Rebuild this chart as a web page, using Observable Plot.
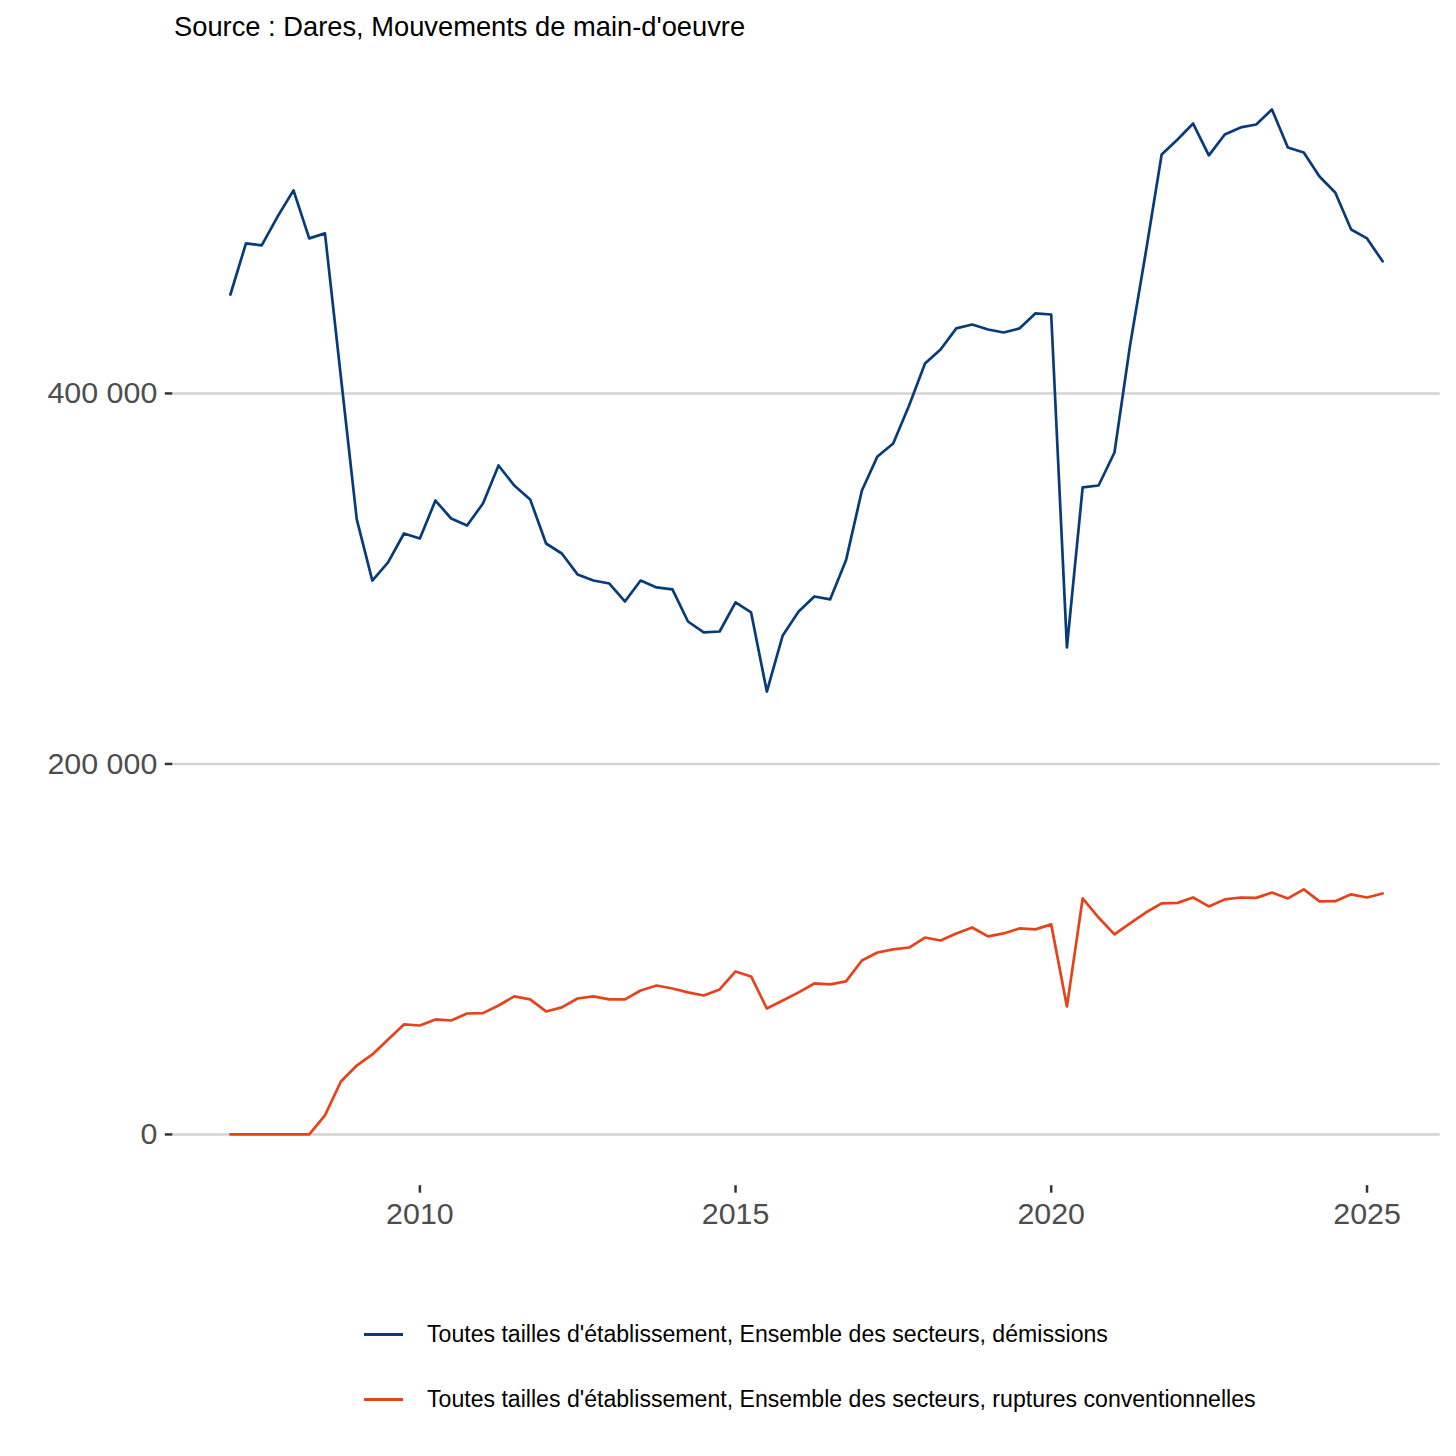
<!DOCTYPE html>
<html><head><meta charset="utf-8">
<script src="https://cdn.jsdelivr.net/npm/d3@7"></script>
<script src="https://cdn.jsdelivr.net/npm/@observablehq/plot@0.6"></script>
<style>
body{margin:0;background:#fff;font-family:"Liberation Sans",Arial,sans-serif;}
#sub{height:50px;box-sizing:border-box;padding:3px 0 0 174px;font-size:27.3px;line-height:48px;color:#000;white-space:nowrap;}
#chart svg{display:block;}
#legend{margin-top:62px;padding-left:364px;font-size:23.1px;color:#000;}
.row{height:65px;display:flex;align-items:center;white-space:nowrap;}
.key{width:39px;height:2.7px;margin-right:24px;flex:none;}
</style></head><body>
<div id="sub">Source : Dares, Mouvements de main-d'oeuvre</div>
<div id="chart"></div>
<div id="legend"></div>
<script>
const periods = [
"2007-01-01","2007-04-01","2007-07-01","2007-10-01",
"2008-01-01","2008-04-01","2008-07-01","2008-10-01",
"2009-01-01","2009-04-01","2009-07-01","2009-10-01",
"2010-01-01","2010-04-01","2010-07-01","2010-10-01",
"2011-01-01","2011-04-01","2011-07-01","2011-10-01",
"2012-01-01","2012-04-01","2012-07-01","2012-10-01",
"2013-01-01","2013-04-01","2013-07-01","2013-10-01",
"2014-01-01","2014-04-01","2014-07-01","2014-10-01",
"2015-01-01","2015-04-01","2015-07-01","2015-10-01",
"2016-01-01","2016-04-01","2016-07-01","2016-10-01",
"2017-01-01","2017-04-01","2017-07-01","2017-10-01",
"2018-01-01","2018-04-01","2018-07-01","2018-10-01",
"2019-01-01","2019-04-01","2019-07-01","2019-10-01",
"2020-01-01","2020-04-01","2020-07-01","2020-10-01",
"2021-01-01","2021-04-01","2021-07-01","2021-10-01",
"2022-01-01","2022-04-01","2022-07-01","2022-10-01",
"2023-01-01","2023-04-01","2023-07-01","2023-10-01",
"2024-01-01","2024-04-01","2024-07-01","2024-10-01",
"2025-01-01","2025-04-01"];

const demissions = [
453400,481000,479900,495500,
509600,483700,486400,409000,
332000,299000,308800,324400,
321700,342200,332500,328700,
340600,361100,350300,342800,
319000,313600,302300,299000,
297400,287700,299000,295300,
294200,276900,271000,271500,
287200,281800,239100,269400,
282300,290400,288800,309900,
347600,366000,373000,393500,
416200,423700,435100,437200,
434500,432900,435100,443200,
442600,262900,349300,350300,
368100,425900,476100,529000,
537100,545700,528500,539800,
543600,545200,553300,532800,
530100,517100,508500,488500,
483700,471300];

const ruptures = [
0,0,0,0,
0,0,10300,28600,
37200,43200,51300,59400,
58800,62100,61500,65300,
65500,69600,74500,72900,
66400,68600,73400,74500,
72900,72900,77700,80400,
78800,76700,75000,78300,
88000,85300,68000,72300,
76700,81500,81000,82600,
93900,98200,99900,100900,
106300,104700,108500,111700,
106900,108500,111200,110700,
113400,69100,127400,117100,
108000,113900,119800,124700,
125000,127900,123100,126900,
127900,127700,130600,127400,
132300,125800,125900,129600,
127900,130100];

const seriesNames = [
"Toutes tailles d'établissement, Ensemble des secteurs, démissions",
"Toutes tailles d'établissement, Ensemble des secteurs, ruptures conventionnelles"];
const seriesColors = ["#063d79", "#e6431b"];

const yTicks = [0, 200000, 400000];
const xTickYears = ["2010-01-01","2015-01-01","2020-01-01","2025-01-01"];

const rows = [];
periods.forEach((p, i) => {
  rows.push({date: new Date(p), value: demissions[i], series: seriesNames[0]});
  rows.push({date: new Date(p), value: ruptures[i], series: seriesNames[1]});
});

const locale = d3.formatLocale({decimal: ",", thousands: " ", grouping: [3], currency: ["", " €"]});
const fmt = locale.format(",.0f");

const x0 = new Date(periods[0]), x1 = new Date(periods[periods.length - 1]);
const xPad = (x1 - x0) * 0.05;
const yMax = d3.max([...demissions, ...ruptures]);
const yMin = d3.min([...demissions, ...ruptures]);
const yPad = (yMax - yMin) * 0.05;

const chart = Plot.plot({
  width: 1456,
  height: 1190,
  marginLeft: 172.3,
  marginRight: 16.3,
  marginTop: 7.7,
  marginBottom: 54.8,
  style: {fontFamily: "'Liberation Sans', Arial, sans-serif", fontSize: "30px", color: "#4d4d4d", background: "white", overflow: "visible"},
  x: {type: "utc", domain: [new Date(+x0 - xPad), new Date(+x1 + xPad)], label: null},
  y: {domain: [yMin - yPad, yMax + yPad], label: null},
  color: {domain: seriesNames, range: seriesColors},
  marks: [
    Plot.gridY(yTicks, {stroke: "#d3d3d3", strokeOpacity: 1, strokeWidth: 2.5}),
    Plot.axisY(yTicks, {tickFormat: fmt, tickSize: 7.5, tickPadding: 8, stroke: "#333", strokeWidth: 2.5, fontSize: 30.4, fill: "#4d4d4d", label: null}),
    Plot.axisX(xTickYears.map(d => new Date(d)), {tickFormat: d => String(d.getUTCFullYear()), tickSize: 7.5, tickPadding: 9, stroke: "#333", strokeWidth: 2.5, fontSize: 30.4, fill: "#4d4d4d", label: null}),
    Plot.line(rows, {x: "date", y: "value", z: "series", stroke: "series", strokeWidth: 2.7, strokeLinejoin: "round"})
  ]
});
document.getElementById("chart").appendChild(chart);

const legend = document.getElementById("legend");
seriesNames.forEach((name, i) => {
  const row = document.createElement("div");
  row.className = "row";
  const key = document.createElement("span");
  key.className = "key";
  key.style.background = seriesColors[i];
  const label = document.createElement("span");
  label.textContent = name;
  row.appendChild(key);
  row.appendChild(label);
  legend.appendChild(row);
});
</script>
</body></html>
